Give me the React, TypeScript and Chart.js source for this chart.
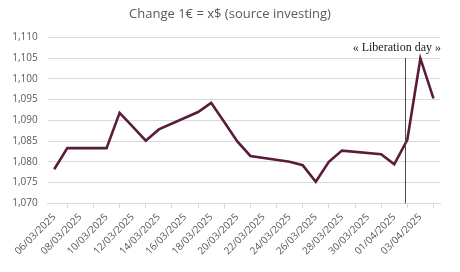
import React, { useEffect, useRef } from "react";
import { Chart, registerables } from "chart.js";

Chart.register(...registerables);

// All calendar days on the axis (Excel-style date axis)
const days: string[] = [
  "06/03/2025", "07/03/2025", "08/03/2025", "09/03/2025", "10/03/2025",
  "11/03/2025", "12/03/2025", "13/03/2025", "14/03/2025", "15/03/2025",
  "16/03/2025", "17/03/2025", "18/03/2025", "19/03/2025", "20/03/2025",
  "21/03/2025", "22/03/2025", "23/03/2025", "24/03/2025", "25/03/2025",
  "26/03/2025", "27/03/2025", "28/03/2025", "29/03/2025", "30/03/2025",
  "31/03/2025", "01/04/2025", "02/04/2025", "03/04/2025", "04/04/2025",
];

// Trading-day quotes (weekends are null)
const eurUsd: (number | null)[] = [
  1.0782, 1.0833, null, null, 1.0833,
  1.0918, 1.0885, 1.0851, 1.0878, null,
  null, 1.0920, 1.0942, 1.0896, 1.0849,
  1.0814, null, null, 1.0800, 1.0792,
  1.0752, 1.0800, 1.0827, null, null,
  1.0818, 1.0794, 1.0853, 1.1049, 1.0953,
];

const yMin = 1.07;
const yMax = 1.11;
const yStep = 0.005;

const titleText = "Change 1€ = x$ (source investing)";
const eventLabel = "« Liberation day »";
const eventDay = "02/04/2025";
const eventLineTop = 1.105;
const eventLabelLevel = 1.1075;

const titlePlugin = {
  id: "centeredTitle",
  afterDraw(chart: any) {
    const { ctx, width } = chart;
    ctx.save();
    ctx.font = "13px 'Open Sans', sans-serif";
    ctx.fillStyle = "#595959";
    ctx.textAlign = "center";
    ctx.textBaseline = "middle";
    ctx.fillText(titleText, width / 2, 14.5);
    ctx.restore();
  },
};

const eventPlugin = {
  id: "eventPlugin",
  afterDatasetsDraw(chart: any) {
    const { ctx, scales, chartArea } = chart;
    const xs = scales.x;
    const ys = scales.y;
    const idx = days.indexOf(eventDay);
    const x = Math.round(xs.getPixelForValue(idx)) - 1.5;
    ctx.save();
    ctx.strokeStyle = "#4a4a4a";
    ctx.lineWidth = 1;
    ctx.beginPath();
    ctx.moveTo(x, ys.getPixelForValue(eventLineTop));
    ctx.lineTo(x, chartArea.bottom);
    ctx.stroke();
    ctx.font = "12px 'Liberation Serif', 'DejaVu Serif', serif";
    ctx.fillStyle = "#1a1a1a";
    ctx.textAlign = "right";
    ctx.textBaseline = "middle";
    ctx.fillText(eventLabel, chartArea.right + 1, ys.getPixelForValue(eventLabelLevel));
    ctx.restore();
  },
};

export default function App() {
  const canvasRef = useRef<HTMLCanvasElement | null>(null);

  useEffect(() => {
    if (!canvasRef.current) return;
    const chart = new Chart(canvasRef.current, {
      type: "line",
      data: {
        labels: days,
        datasets: [
          {
            data: eurUsd,
            borderColor: "#5b1b3b",
            borderWidth: 2.6,
            pointRadius: 0,
            tension: 0,
            spanGaps: true,
            fill: false,
          },
        ],
      },
      options: {
        responsive: false,
        animation: false,
        layout: { padding: { left: 0, right: 20, top: 37.3, bottom: 0 } },
        plugins: {
          legend: { display: false },
          tooltip: { enabled: false },
          title: { display: false },
        },
        scales: {
          x: {
            type: "category",
            offset: true,
            grid: {
              offset: true,
              drawOnChartArea: false,
              drawTicks: true,
              tickLength: 5,
              color: "#d9d9d9",
            },
            border: { display: true, color: "#d9d9d9" },
            ticks: {
              autoSkip: false,
              maxRotation: 45,
              minRotation: 45,
              padding: 3,
              color: "#595959",
              font: { family: "'Open Sans', sans-serif", size: 10 },
              callback: (_v: any, i: number) => (i % 2 === 0 ? days[i] : null),
            },
            afterFit: (s: any) => {
              s.height = 68.7;
            },
          },
          y: {
            min: yMin,
            max: yMax,
            grid: { color: "#d9d9d9", drawTicks: false },
            border: { display: false },
            ticks: {
              stepSize: yStep,
              padding: 10,
              color: "#595959",
              font: { family: "'Open Sans', sans-serif", size: 10 },
              callback: (v: any) => Number(v).toFixed(3).replace(".", ","),
            },
            afterFit: (s: any) => {
              s.width = 47.7;
            },
          },
        },
      },
      plugins: [eventPlugin, titlePlugin],
    });
    return () => chart.destroy();
  }, []);

  return (
    <div style={{ position: "fixed", left: 0, top: 0, width: 460, height: 272, background: "#fff" }}>
      <canvas ref={canvasRef} width={460} height={272} />
    </div>
  );
}
